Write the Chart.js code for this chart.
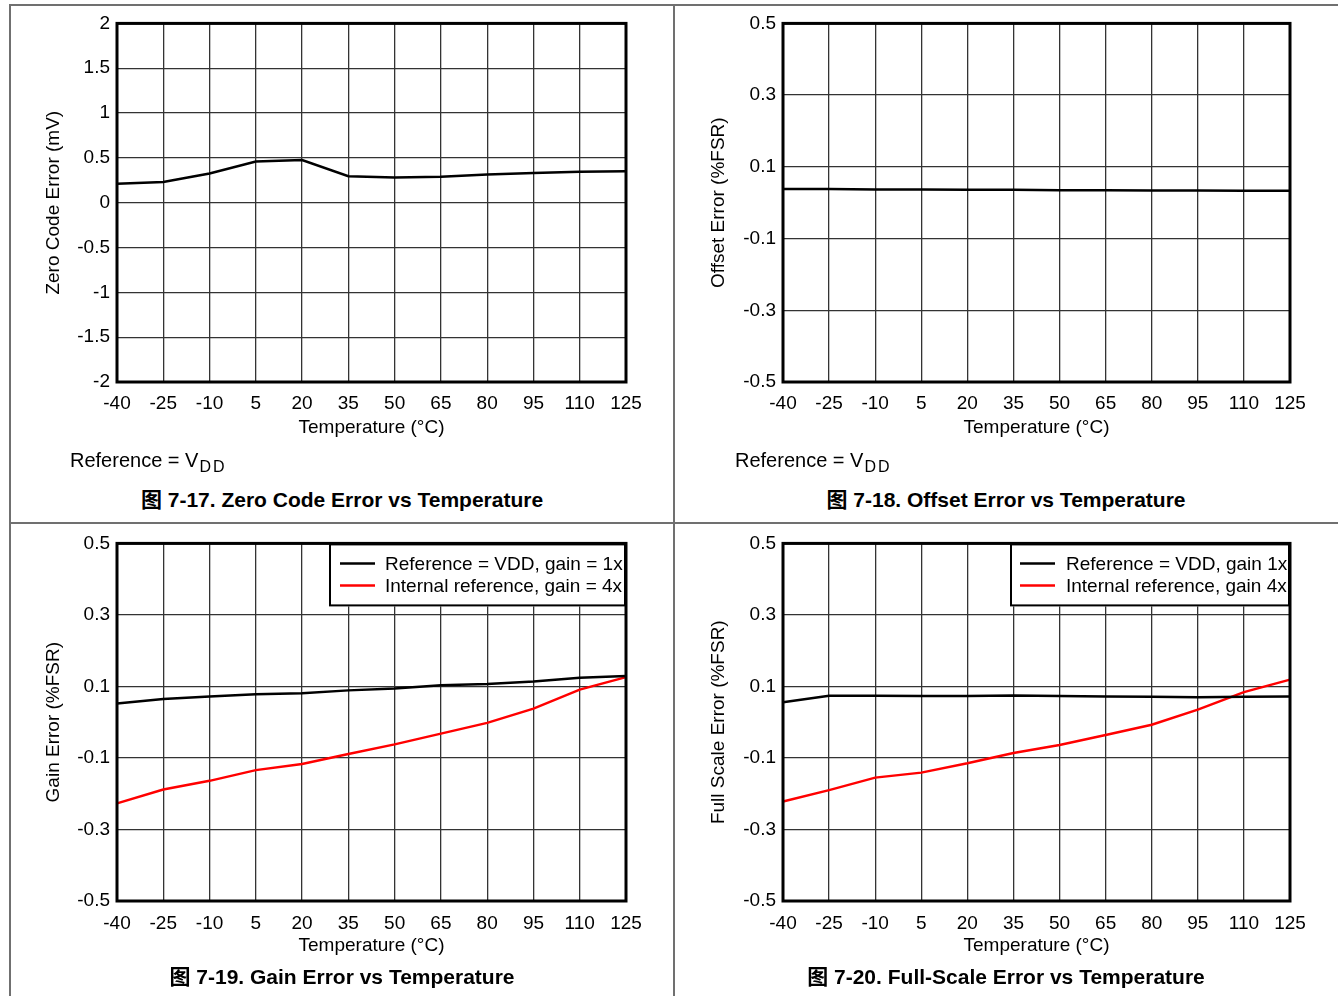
<!DOCTYPE html>
<html><head><meta charset="utf-8">
<script src="https://cdn.jsdelivr.net/npm/chart.js@4.4.0/dist/chart.umd.min.js"></script>
<style>
html,body{margin:0;padding:0;background:#fff;width:1338px;height:996px;overflow:hidden;position:relative;font-family:"Liberation Sans",Arial,"Noto Sans CJK SC",sans-serif;}
.ln{position:absolute;background:#707070;}
.cv{position:absolute;}
.note{position:absolute;font-size:20px;line-height:22px;color:#000;white-space:nowrap;}
.note sub{font-size:16px;letter-spacing:2px;vertical-align:-5px;line-height:0;padding-left:1px;}
.cap{position:absolute;width:664px;text-align:center;font-weight:bold;font-size:21px;line-height:24px;color:#000;white-space:nowrap;font-family:"Liberation Sans",Arial,"Noto Sans CJK SC",sans-serif;}
</style></head>
<body>
<div class="ln" style="left:9px;top:4px;width:1329px;height:2px;"></div>
<div class="ln" style="left:9px;top:4px;width:2px;height:992px;"></div>
<div class="ln" style="left:673px;top:4px;width:2px;height:992px;"></div>
<div class="ln" style="left:9px;top:522px;width:1329px;height:2px;"></div>

<div class="cv" style="left:10px;top:5px;width:664px;height:445px;"><canvas id="c1"></canvas></div>
<div class="cv" style="left:674px;top:5px;width:664px;height:445px;"><canvas id="c2"></canvas></div>
<div class="cv" style="left:10px;top:525px;width:664px;height:445px;"><canvas id="c3"></canvas></div>
<div class="cv" style="left:674px;top:525px;width:664px;height:445px;"><canvas id="c4"></canvas></div>

<div class="note" style="left:70px;top:449px;">Reference = V<sub>DD</sub></div>
<div class="note" style="left:735px;top:449px;">Reference = V<sub>DD</sub></div>
<div class="cap" style="left:10px;top:488px;">图 7-17. Zero Code Error vs Temperature</div>
<div class="cap" style="left:674px;top:488px;">图 7-18. Offset Error vs Temperature</div>
<div class="cap" style="left:10px;top:965px;">图 7-19. Gain Error vs Temperature</div>
<div class="cap" style="left:674px;top:965px;">图 7-20. Full-Scale Error vs Temperature</div>

<script>
const temps = [-40,-25,-10,5,20,35,50,65,80,95,110,125];
const zeroCodeError = [0.21,0.23,0.325,0.46,0.475,0.295,0.28,0.29,0.315,0.33,0.345,0.35];
const offsetError = [0.038,0.038,0.037,0.037,0.036,0.036,0.035,0.035,0.034,0.034,0.033,0.033];
const gainErrVdd = [0.052,0.065,0.072,0.078,0.081,0.089,0.094,0.103,0.107,0.114,0.124,0.129];
const gainErrInt = [-0.227,-0.188,-0.164,-0.134,-0.117,-0.089,-0.062,-0.032,-0.002,0.038,0.091,0.126];
const fsErrVdd = [0.056,0.074,0.074,0.073,0.073,0.075,0.073,0.072,0.071,0.070,0.071,0.072];
const fsErrInt = [-0.222,-0.190,-0.155,-0.141,-0.115,-0.086,-0.064,-0.036,-0.007,0.035,0.084,0.119];
const zeroTicks = [-2,-1.5,-1,-0.5,0,0.5,1,1.5,2];
const pctTicks = [-0.5,-0.3,-0.1,0.1,0.3,0.5];
const legendGain = ['Reference = VDD, gain = 1x','Internal reference, gain = 4x'];
const legendFs = ['Reference = VDD, gain 1x','Internal reference, gain 4x'];

const FONT = '"Liberation Sans", Arial, sans-serif';

const framePlugin = {
  id: 'frame',
  afterDraw(chart, args, opts) {
    const ctx = chart.ctx, a = chart.chartArea;
    ctx.save();
    if (opts.legend) {
      const L = opts.legend;
      const left = a.right - L.width, top = a.top;
      ctx.fillStyle = '#fff';
      ctx.fillRect(left, top, L.width, L.height);
      ctx.strokeStyle = '#000';
      ctx.lineWidth = 2;
      ctx.strokeRect(left + 1, top + 1, L.width - 2, L.height - 2);
      ctx.font = '19px ' + FONT;
      ctx.textBaseline = 'middle';
      ctx.textAlign = 'left';
      chart.data.datasets.forEach((ds, i) => {
        const y = top + L.row0 + i * L.rowGap;
        ctx.strokeStyle = ds.borderColor;
        ctx.lineWidth = 2.5;
        ctx.beginPath();
        ctx.moveTo(left + L.s0, y);
        ctx.lineTo(left + L.s1, y);
        ctx.stroke();
        ctx.fillStyle = '#000';
        ctx.fillText(ds.label, left + L.tx, y + 1);
      });
    }
    ctx.strokeStyle = '#000';
    ctx.lineWidth = 3;
    ctx.strokeRect(a.left, a.top, a.right - a.left, a.bottom - a.top);
    ctx.restore();
  }
};

function makeChart(id, cfg) {
  const datasets = cfg.series.map(s => ({
    label: s.label, data: s.data, borderColor: s.color, backgroundColor: s.color,
    borderWidth: 2.5, pointRadius: 0, tension: 0, fill: false
  }));
  return new Chart(document.getElementById(id), {
    type: 'line',
    data: { labels: temps.map(String), datasets },
    plugins: [framePlugin],
    options: {
      responsive: true, maintainAspectRatio: false, animation: false,
      layout: { padding: { left: 0, top: 18, right: 48, bottom: 0 } },
      plugins: { legend: { display: false }, tooltip: { enabled: false }, frame: { legend: cfg.legend } },
      scales: {
        x: {
          type: 'category', offset: false,
          grid: { color: '#333', lineWidth: 1.3, drawTicks: false, offset: false },
          border: { display: false },
          ticks: { color: '#000', font: { size: 19, family: FONT }, padding: cfg.xTickPad, maxRotation: 0, autoSkip: false },
          title: { display: true, text: 'Temperature (°C)', color: '#000', font: { size: 19, family: FONT }, padding: { top: 0, bottom: cfg.xTitlePad } },
          afterFit(s) { s.height = cfg.xH; }
        },
        y: {
          type: 'linear', min: cfg.yTicks[0], max: cfg.yTicks[cfg.yTicks.length - 1],
          grid: { color: '#333', lineWidth: 1.3, drawTicks: false },
          border: { display: false },
          ticks: { color: '#000', font: { size: 19, family: FONT }, padding: 7, callback: v => String(v) },
          afterBuildTicks(s) { s.ticks = cfg.yTicks.map(v => ({ value: v })); },
          title: { display: true, text: cfg.yTitle, color: '#000', font: { size: 19, family: FONT }, padding: { top: cfg.yTitlePad, bottom: 0 } },
          afterFit(s) { s.width = cfg.yW; }
        }
      }
    }
  });
}

makeChart('c1', { yTicks: zeroTicks, yTitle: 'Zero Code Error (mV)', yW: 107, xH: 68, xTickPad: 10, xTitlePad: 10.5, yTitlePad: 32.5,
  series: [{ label: 'Zero code error', data: zeroCodeError, color: '#000' }] });
makeChart('c2', { yTicks: pctTicks, yTitle: 'Offset Error (%FSR)', yW: 109, xH: 68, xTickPad: 10, xTitlePad: 10.5, yTitlePad: 33.5,
  series: [{ label: 'Offset error', data: offsetError, color: '#000' }] });
makeChart('c3', { yTicks: pctTicks, yTitle: 'Gain Error (%FSR)', yW: 107, xH: 69, xTickPad: 11, xTitlePad: 12.5, yTitlePad: 32.5,
  legend: { width: 297, height: 63, row0: 20, rowGap: 22, s0: 11, s1: 46, tx: 56 },
  series: [{ label: legendGain[0], data: gainErrVdd, color: '#000' }, { label: legendGain[1], data: gainErrInt, color: '#ff0000' }] });
makeChart('c4', { yTicks: pctTicks, yTitle: 'Full Scale Error (%FSR)', yW: 109, xH: 69, xTickPad: 11, xTitlePad: 12.5, yTitlePad: 33.5,
  legend: { width: 280, height: 63, row0: 20, rowGap: 22, s0: 10, s1: 45, tx: 56 },
  series: [{ label: legendFs[0], data: fsErrVdd, color: '#000' }, { label: legendFs[1], data: fsErrInt, color: '#ff0000' }] });
</script>
</body></html>
